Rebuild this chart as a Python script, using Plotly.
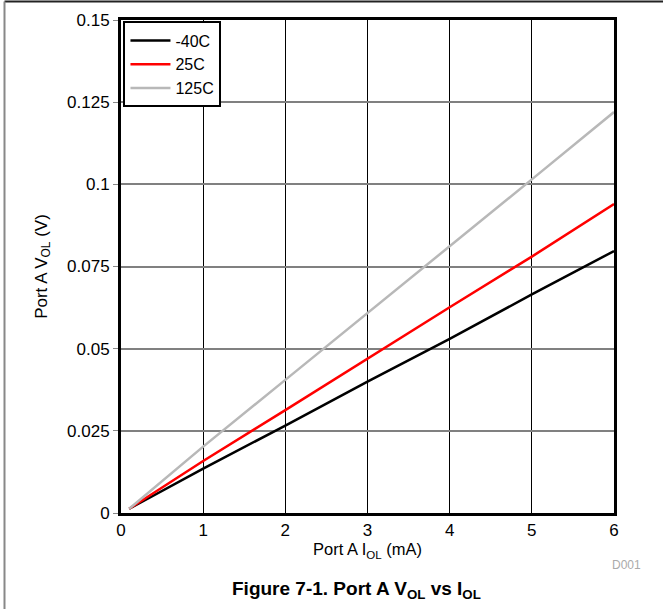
import plotly.graph_objects as go

iol = [0.1, 1, 2, 3, 4, 5, 6]
v_m40 = [0.0013, 0.0135, 0.0266, 0.0400, 0.0530, 0.0665, 0.0797]
v_25 = [0.0013, 0.0158, 0.0313, 0.0470, 0.0626, 0.0780, 0.0940]
v_125 = [0.0013, 0.0202, 0.0405, 0.0608, 0.0810, 0.1015, 0.1220]
series_names = ["-40C", "25C", "125C"]
series_colors = ["#000000", "#ff0000", "#b8b8b8"]
y_ticks = [0, 0.025, 0.05, 0.075, 0.1, 0.125, 0.15]
y_ticklabels = ["0", "0.025", "0.05", "0.075", "0.1", "0.125", "0.15"]
x_ticks = [0, 1, 2, 3, 4, 5, 6]

W, H = 663, 609
L, R, T, B = 121, 49, 20, 96
pw = W - L - R
ph = H - T - B

fig = go.Figure()
for name, ys, col in zip(series_names, [v_m40, v_25, v_125], series_colors):
    fig.add_trace(go.Scatter(x=iol, y=ys, mode="lines", name=name,
                             line=dict(color=col, width=2.5)))

font = "Liberation Sans, Arial, sans-serif"
fig.update_layout(
    width=W, height=H,
    margin=dict(l=L, r=R, t=T, b=B, pad=0),
    paper_bgcolor="white", plot_bgcolor="white",
    font=dict(family=font, size=17, color="black"),
    showlegend=True,
    legend=dict(x=0.005, y=0.997, xanchor="left", yanchor="top",
                bordercolor="black", borderwidth=2, bgcolor="white",
                font=dict(size=16, family=font, color="black"), tracegroupgap=0,
                itemwidth=40),
    xaxis=dict(range=[0, 6], tickvals=x_ticks, showgrid=True,
               gridcolor="#000000", gridwidth=1, zeroline=False,
               showline=True, linecolor="black", linewidth=3, mirror=True,
               ticks="", tickfont=dict(size=17, family=font, color="black"),
               title=dict(text="Port A I<sub>OL</sub> (mA)",
                          font=dict(size=16.5, family=font, color="black"), standoff=2)),
    yaxis=dict(range=[0, 0.15], tickvals=y_ticks, ticktext=y_ticklabels, showgrid=True,
               gridcolor="#808080", gridwidth=1.5, zeroline=False,
               showline=True, linecolor="black", linewidth=3, mirror=True,
               ticks="outside", ticklen=5, tickcolor="#888888", tickwidth=1,
               tickfont=dict(size=17, family=font, color="black"),
               title=dict(text="Port A V<sub>OL</sub> (V)",
                          font=dict(size=17, family=font, color="black"), standoff=16)),
)

fig.add_annotation(text="<b>Figure 7-1. Port A V<sub>OL</sub> vs I<sub>OL</sub></b>",
                   xref="paper", yref="paper", x=(356 - L) / pw, y=-(590 - (T + ph)) / ph,
                   xanchor="center", yanchor="middle", showarrow=False,
                   font=dict(size=19, family=font, color="black"))
fig.add_annotation(text="D001", xref="paper", yref="paper",
                   x=(626 - L) / pw, y=-(565 - (T + ph)) / ph,
                   xanchor="center", yanchor="middle", showarrow=False,
                   font=dict(size=12, family=font, color="#aaaaaa"))

# page frame: top and left edges
fig.add_shape(type="line", xref="paper", yref="paper",
              x0=(4.5 - L) / pw, x1=(W - L) / pw,
              y0=1 + (T - 1.5) / ph, y1=1 + (T - 1.5) / ph,
              line=dict(color="#222222", width=2))
fig.add_shape(type="line", xref="paper", yref="paper",
              x0=(4.5 - L) / pw, x1=(4.5 - L) / pw,
              y0=1 + (T - 1.5) / ph, y1=-(H - T - ph) / ph,
              line=dict(color="#888888", width=2))

fig.write_html("out.html", config={"displayModeBar": False},
               post_script="document.body.style.margin='0';document.body.style.overflow='hidden';")
